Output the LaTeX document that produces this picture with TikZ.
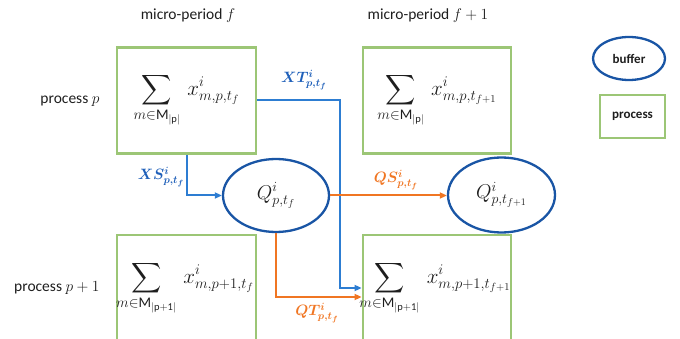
\RequirePackage{fix-cm}
\documentclass[tikz,border=0pt]{standalone}
\usepackage{amsmath,amssymb,bm}
\usepackage{fontspec}
\setmainfont{Carlito}
\definecolor{boxgreen}{RGB}{156,198,118}
\definecolor{bufblue}{RGB}{25,85,165}
\definecolor{flowblue}{RGB}{45,125,210}
\definecolor{labblue}{RGB}{30,95,185}
\definecolor{floworange}{RGB}{240,118,35}
\definecolor{inkgray}{RGB}{30,30,30}
\usetikzlibrary{arrows.meta,positioning,shapes.geometric}
\newcommand{\xsum}[2]{$\displaystyle\sum_{m\in\mathrm{M}_{|\mathrm{#1}|}}\, x^{i}_{#2}$}
\newcommand{\flowlab}[1]{$\bm{#1}$}

\begin{document}
\begin{tikzpicture}[x=1pt,y=-1pt,
    procbox/.style={draw=boxgreen, line width=2.8pt, inner sep=0pt,
                    font=\fontsize{21}{25}\selectfont, text=inkgray},
    sumtext/.style={font=\fontsize{21}{25}\selectfont, text=inkgray},
    bufnode/.style={ellipse, draw=bufblue, line width=2.3pt, inner sep=0pt,
                    font=\fontsize{20}{24}\selectfont, text=inkgray},
    blueflow/.style={draw=flowblue, line width=2pt, -{Triangle[length=7pt,width=6pt]}},
    orangeflow/.style={draw=floworange, line width=2pt, -{Triangle[length=7pt,width=6pt]}},
    headlab/.style={font=\fontsize{15.5}{18}\selectfont, text=inkgray},
    legendlab/.style={font=\fontsize{13}{16}\selectfont\bfseries, text=inkgray}]
  \useasboundingbox (0,0) rectangle (680,339);
  \clip (0,0) rectangle (680,339);

  % column and row headings
  \node[headlab] (headf)  at (188,16) {micro-period $f$};
  \node[headlab] (headf1) at (428,16) {micro-period $f+1$};
  \node[headlab, anchor=east] (rowp)  at (103,101) {process $p$};
  \node[headlab, anchor=east] (rowp1) at (103,288) {process $p+1$};

  % processes
  \node[procbox, minimum width=139pt, minimum height=106pt] (boxpf)   at (186.5,100.5) {\xsum{p}{m,p,t_f}};
  \node[procbox, minimum width=148pt, minimum height=106pt] (boxpf1)  at (437,100.5)   {\xsum{p}{m,p,t_{f+1}}};
  \node[procbox, minimum width=139pt, minimum height=110pt] (boxp1f)  at (186.5,290)   {};
  \node[procbox, minimum width=148pt, minimum height=110pt] (boxp1f1) at (437,290)     {};
  \node[sumtext] (sump1f)  at (185,288) {\xsum{p+1}{m,p+1,t_f}};
  \node[sumtext] (sump1f1) at (435,288) {\xsum{p+1}{m,p+1,t_{f+1}}};

  % buffers
  \node[bufnode, minimum width=106pt, minimum height=73pt] (bufpf)  at (276,195.5) {$Q^{i}_{p,t_f}$};
  \node[bufnode, minimum width=107pt, minimum height=75pt] (bufpf1) at (501.5,195) {$Q^{i}_{p,t_{f+1}}$};

  % legend
  \node[bufnode, minimum width=72pt, minimum height=43pt, legendlab] (legbuf) at (629,58.5) {buffer};
  \node[procbox, minimum width=65pt, minimum height=43pt, legendlab] (legproc) at (632.5,116.5) {process};

  % flows
  \draw[blueflow] (boxpf.east) -- ++(83,0) |- ([yshift=2pt]boxp1f1.west);
  \draw[blueflow] (boxpf.south) |- (bufpf.west);
  \draw[orangeflow] (bufpf.east) -- (bufpf.east -| bufpf1.west);
  \draw[orangeflow] (bufpf.south) |- ([yshift=-7pt]boxp1f1.west);

  \node[text=labblue, font=\fontsize{15}{18}\selectfont] (labxt) at (304,80) {\flowlab{XT^{i}_{p,t_f}}};
  \node[text=labblue, font=\fontsize{15}{18}\selectfont] (labxs) at (161,177) {\flowlab{XS^{i}_{p,t_f}}};
  \node[text=floworange, font=\fontsize{15}{18}\selectfont] (labqs) at (396,180) {\flowlab{QS^{i}_{p,t_f}}};
  \node[text=floworange, font=\fontsize{15}{18}\selectfont] (labqt) at (317,313) {\flowlab{QT^{i}_{p,t_f}}};
\end{tikzpicture}
\end{document}
